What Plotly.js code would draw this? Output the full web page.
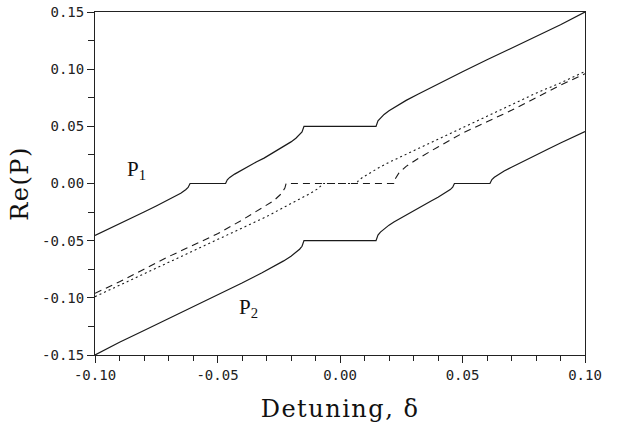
<!DOCTYPE html>
<html>
<head>
<meta charset="utf-8">
<script src="https://cdn.plot.ly/plotly-3.0.1.min.js"></script>
<style>
  html, body { margin: 0; padding: 0; background: #fff; }
  #chart { width: 620px; height: 426px; }
  .xtitle, .ytitle { letter-spacing: 1.5px; }
</style>
</head>
<body>
<div id="chart"></div>
<script>
// ---- data ----
const p1X = [-0.100, -0.095, -0.090, -0.085, -0.080, -0.075, -0.070, -0.067, -0.065, -0.063, -0.062, -0.0612,
             -0.0467, -0.046, -0.045, -0.043, -0.040, -0.037, -0.034, -0.031, -0.028, -0.025, -0.022, -0.020,
             -0.018, -0.0165, -0.0155, -0.0147, 0.0147, 0.0155, 0.0165, 0.018, 0.020, 0.023, 0.027, 0.032,
             0.040, 0.050, 0.060, 0.070, 0.080, 0.090, 0.100];
const p1Y = [-0.0455, -0.0405, -0.0354, -0.0302, -0.0250, -0.0197, -0.0142, -0.0110, -0.0085, -0.0055, -0.0035, 0.0,
             0.0, 0.0032, 0.0053, 0.0082, 0.0120, 0.0155, 0.0190, 0.0222, 0.0260, 0.0300, 0.0337, 0.0364,
             0.0396, 0.0425, 0.0451, 0.0500, 0.0500, 0.0549, 0.0575, 0.0604, 0.0636, 0.0677, 0.0727, 0.0783,
             0.0871, 0.0977, 0.1082, 0.1184, 0.1286, 0.1388, 0.1500];

const p2X = [-0.100, -0.090, -0.080, -0.070, -0.060, -0.050, -0.040, -0.032, -0.027, -0.023, -0.020, -0.018,
             -0.0165, -0.0155, -0.0147, 0.0147, 0.0155, 0.0165, 0.018, 0.020, 0.022, 0.025, 0.028, 0.031,
             0.034, 0.037, 0.040, 0.043, 0.045, 0.046, 0.0467, 0.0612, 0.062, 0.063, 0.065, 0.067, 0.070,
             0.075, 0.080, 0.085, 0.090, 0.095, 0.100];
const p2Y = [-0.1500, -0.1388, -0.1286, -0.1184, -0.1082, -0.0977, -0.0871, -0.0783, -0.0727, -0.0677, -0.0636, -0.0604,
             -0.0575, -0.0549, -0.0500, -0.0500, -0.0451, -0.0425, -0.0396, -0.0364, -0.0337, -0.0300, -0.0260, -0.0222,
             -0.0190, -0.0155, -0.0120, -0.0082, -0.0053, -0.0032, 0.0, 0.0, 0.0035, 0.0055, 0.0085, 0.0110, 0.0142,
             0.0197, 0.0250, 0.0302, 0.0354, 0.0405, 0.0455];

const dashX = [-0.100, -0.090, -0.080, -0.070, -0.060, -0.050, -0.040, -0.032, -0.027, -0.024, -0.0225, -0.022,
               0.022, 0.0225, 0.024, 0.027, 0.032, 0.040, 0.050, 0.060, 0.070, 0.080, 0.090, 0.100];
const dashY = [-0.096, -0.086, -0.075, -0.064, -0.054, -0.044, -0.032, -0.022, -0.015, -0.009, -0.004, 0.0,
               0.0, 0.004, 0.009, 0.015, 0.022, 0.032, 0.044, 0.054, 0.064, 0.075, 0.086, 0.096];

const dotX = [-0.100, -0.090, -0.080, -0.070, -0.060, -0.050, -0.040, -0.030, -0.020, -0.015, -0.012, -0.009, -0.0068,
              0.0068, 0.0075, 0.009, 0.012, 0.016, 0.020, 0.025, 0.030, 0.040, 0.050, 0.060, 0.070, 0.080, 0.090, 0.100];
const dotY = [-0.099, -0.089, -0.079, -0.069, -0.059, -0.049, -0.039, -0.029, -0.0175, -0.012, -0.0085, -0.0045, 0.0,
              0.0, 0.0025, 0.005, 0.009, 0.014, 0.0185, 0.0235, 0.029, 0.039, 0.049, 0.059, 0.069, 0.079, 0.088, 0.098];

const xTickVals = [-0.10, -0.05, 0.00, 0.05, 0.10];
const xTickText = ['-0.10', '-0.05', '0.00', '0.05', '0.10'];
const yTickVals = [-0.15, -0.10, -0.05, 0.00, 0.05, 0.10, 0.15];
const yTickText = ['-0.15', '-0.10', '-0.05', '0.00', '0.05', '0.10', '0.15'];

const curveLabels = ['P<sub>1</sub>', 'P<sub>2</sub>'];
const curveLabelX = [-0.083, -0.0375];
const curveLabelY = [0.012, -0.109];

// ---- traces ----
const ink = '#1a1a1a';
const traces = [
  {x: p1X, y: p1Y, mode: 'lines', line: {color: ink, width: 1.2}, hoverinfo: 'skip'},
  {x: p2X, y: p2Y, mode: 'lines', line: {color: ink, width: 1.2}, hoverinfo: 'skip'},
  {x: dashX, y: dashY, mode: 'lines', line: {color: ink, width: 1.1, dash: '7px,5px'}, hoverinfo: 'skip'},
  {x: dotX, y: dotY, mode: 'lines', line: {color: ink, width: 1.1, dash: '2px,3px'}, hoverinfo: 'skip'}
];

const tickFont = {family: 'DejaVu Sans Mono', size: 14, color: '#222'};
const titleFont = {family: 'DejaVu Serif', size: 24, color: '#111'};

const layout = {
  width: 620, height: 426,
  margin: {l: 95, r: 35, t: 12, b: 71},
  paper_bgcolor: '#fff', plot_bgcolor: '#fff',
  showlegend: false,
  xaxis: {
    range: [-0.1, 0.1],
    tickmode: 'array', tickvals: xTickVals, ticktext: xTickText,
    ticks: 'outside', ticklen: 7, tickwidth: 1, tickcolor: '#222',
    minor: {dtick: 0.01, tick0: 0, ticks: 'outside', ticklen: 5, tickwidth: 1, tickcolor: '#222', showgrid: false},
    showline: true, linecolor: '#222', linewidth: 1, mirror: true,
    showgrid: false, zeroline: false,
    tickfont: tickFont,
    title: {text: 'Detuning, δ', font: titleFont, standoff: 18}
  },
  yaxis: {
    range: [-0.15, 0.15],
    tickmode: 'array', tickvals: yTickVals, ticktext: yTickText,
    ticks: 'outside', ticklen: 7, tickwidth: 1, tickcolor: '#222',
    minor: {dtick: 0.025, tick0: 0, ticks: 'outside', ticklen: 6, tickwidth: 1, tickcolor: '#222', showgrid: false},
    showline: true, linecolor: '#222', linewidth: 1, mirror: true,
    showgrid: false, zeroline: false,
    tickfont: tickFont,
    title: {text: 'Re(P)', font: titleFont, standoff: 6}
  },
  annotations: curveLabels.map((t, i) => ({
    x: curveLabelX[i], y: curveLabelY[i], xref: 'x', yref: 'y',
    text: t, showarrow: false,
    font: {family: 'Liberation Serif', size: 21, color: '#111'}
  }))
};

Plotly.newPlot('chart', traces, layout, {staticPlot: true, displayModeBar: false});
</script>
</body>
</html>
